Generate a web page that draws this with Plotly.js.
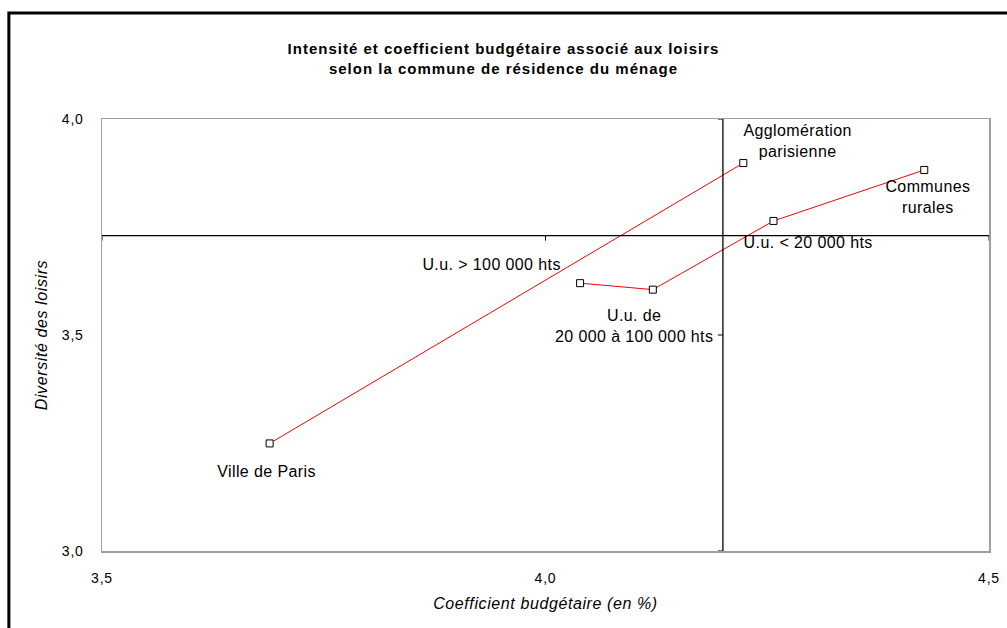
<!DOCTYPE html>
<html>
<head>
<meta charset="utf-8">
<script src="https://cdn.plot.ly/plotly-3.0.1.min.js"></script>
<style>
html,body{margin:0;padding:0;background:#fff;}
#chart{width:1007px;height:628px;}
#chart .gtitle{letter-spacing:1px;}
#chart .xtitle,#chart .ytitle{letter-spacing:0.6px;}
#chart .xtick text,#chart .ytick text{letter-spacing:0.8px;}
#chart .annotation-text{letter-spacing:0.4px;}
</style>
</head>
<body>
<div id="chart"></div>
<script>
// Data
const labelsA = ["Ville de Paris", "Agglomération<br>parisienne"];
const coefA = [3.689, 4.223];
const diversA = [3.249, 3.898];

const labelsB = ["U.u. > 100 000 hts", "U.u. de<br>20 000 à 100 000 hts", "U.u. < 20 000 hts", "Communes<br>rurales"];
const coefB = [4.039, 4.121, 4.257, 4.427];
const diversB = [3.620, 3.605, 3.764, 3.882];

const refX = 4.2;   // vertical crossing axis
const refY = 3.73;  // horizontal crossing axis

const xTicks = [3.5, 4.0, 4.5];
const yTicks = [3.0, 3.5, 4.0];

// label offsets in pixels (style)
const offA = [[-3, -28], [54, 22]];
const offB = [[-89, 19], [-19, -36], [35, -22], [4, -27]];

const FONT = "Liberation Sans, Arial, sans-serif";

const mk = {symbol: "square", size: 7, color: "#ffffff", line: {color: "#000000", width: 1}};
const traces = [
  {x: coefA, y: diversA, mode: "lines+markers", line: {color: "#ff0000", width: 1}, marker: mk, hoverinfo: "x+y", showlegend: false},
  {x: coefB, y: diversB, mode: "lines+markers", line: {color: "#ff0000", width: 1}, marker: mk, hoverinfo: "x+y", showlegend: false}
];

const annotations = [];
function addLabels(xs, ys, ls, offs) {
  for (let i = 0; i < xs.length; i++) {
    annotations.push({x: xs[i], y: ys[i], xref: "x", yref: "y", text: ls[i], showarrow: false,
      xshift: offs[i][0], yshift: offs[i][1], xanchor: "center", yanchor: "middle",
      font: {family: FONT, size: 16, color: "#000"}, align: "center"});
  }
}
addLabels(coefA, diversA, labelsA, offA);
addLabels(coefB, diversB, labelsB, offB);

const shapes = [
  // outer frame
  {type: "rect", xref: "paper", yref: "paper", x0: -0.105, x1: 1.2, y0: -0.5, y1: 1.2454, line: {color: "#000", width: 3}, layer: "below"},
  // crossing axes
  {type: "line", xref: "x", yref: "paper", x0: refX, x1: refX, y0: 0, y1: 1, line: {color: "#000", width: 1.3}},
  {type: "line", xref: "paper", yref: "y", x0: 0, x1: 1, y0: refY, y1: refY, line: {color: "#000", width: 1.3}}
];
// small tick marks on crossing axes
xTicks.forEach(t => shapes.push({type: "line", xref: "x", yref: "y", x0: t, x1: t, ysizemode: "pixel", yanchor: refY, y0: 0, y1: -5, line: {color: "#000", width: 1}}));
yTicks.forEach(t => shapes.push({type: "line", xref: "x", yref: "y", y0: t, y1: t, xsizemode: "pixel", xanchor: refX, x0: 0, x1: -5, line: {color: "#000", width: 1}}));

const layout = {
  width: 1007, height: 628,
  margin: {l: 102, r: 18, t: 119, b: 77},
  paper_bgcolor: "#fff", plot_bgcolor: "#fff",
  separators: ", ",
  font: {family: FONT, color: "#000"},
  title: {text: "<b>Intensité et coefficient budgétaire associé aux loisirs<br>selon la commune de résidence du ménage</b>",
    x: 0.5, xref: "container", xanchor: "center", y: 1 - 54 / 628, yref: "container", yanchor: "middle",
    font: {family: FONT, size: 15, color: "#000"}},
  xaxis: {range: [3.5, 4.5], tickvals: xTicks, tickformat: ".1f", showgrid: false, zeroline: false,
    showline: true, mirror: true, linecolor: "#a0a0a0", linewidth: 1.5, ticks: "", ticklabelstandoff: 14,
    tickfont: {family: FONT, size: 14, color: "#000"},
    title: {text: "<i>Coefficient budgétaire (en %)</i>", standoff: 12, font: {family: FONT, size: 16, color: "#000"}}},
  yaxis: {range: [3.0, 4.0], tickvals: yTicks, tickformat: ".1f", showgrid: false, zeroline: false,
    showline: true, mirror: true, linecolor: "#a0a0a0", linewidth: 1.5, ticks: "", ticklabelstandoff: 14,
    tickfont: {family: FONT, size: 14, color: "#000"},
    title: {text: "<i>Diversité des loisirs</i>", standoff: 12, font: {family: FONT, size: 16, color: "#000"}}},
  annotations: annotations,
  shapes: shapes,
  showlegend: false
};

Plotly.newPlot("chart", traces, layout, {displayModeBar: false, staticPlot: true});
</script>
</body>
</html>
